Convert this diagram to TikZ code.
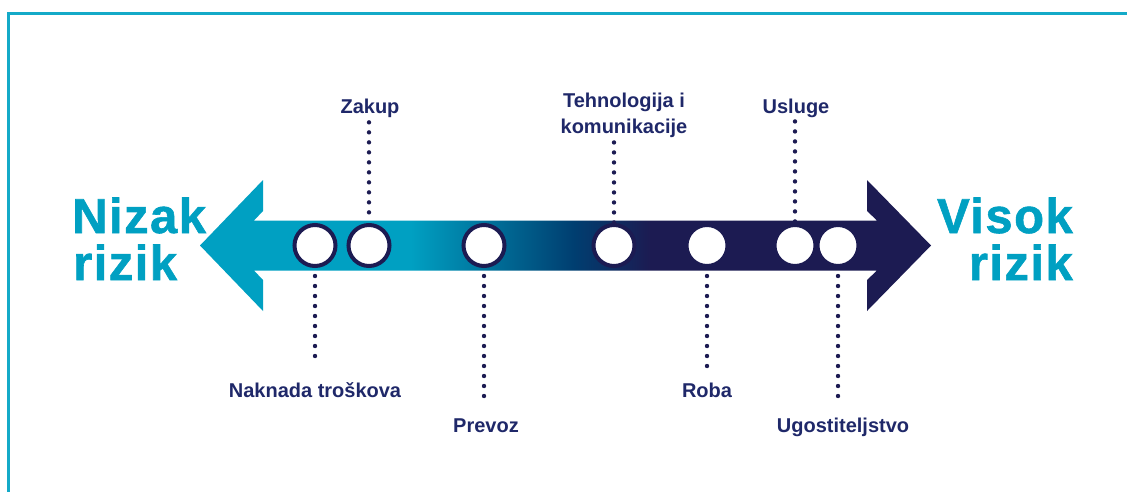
\documentclass[tikz,border=0pt]{standalone}
\usepackage{fontspec}
\setmainfont{Liberation Sans}
\definecolor{tealA}{RGB}{0,160,194}
\definecolor{frameC}{RGB}{20,170,200}
\definecolor{navyA}{RGB}{28,27,82}
\definecolor{midblue}{RGB}{0,62,112}
\definecolor{labelC}{RGB}{31,40,105}
\pgfdeclarehorizontalshading{arrowshade}{100bp}{color(0bp)=(tealA); color(39.4bp)=(tealA); color(50.6bp)=(midblue); color(55.8bp)=(navyA); color(100bp)=(navyA)}
\tikzset{
  circ/.style={circle, minimum size=41pt, inner sep=0pt, fill=white, draw=navyA, line width=4pt},
  dotline/.style={navyA, line width=4.4pt, line cap=round, dash pattern=on 0pt off 10pt},
  lbl/.style={inner sep=0pt, text=labelC, font=\bfseries\fontsize{20}{26}\selectfont},
  big/.style={inner sep=0pt, text=tealA, font=\bfseries\fontsize{49}{47}\selectfont\addfontfeatures{LetterSpace=3,FakeBold=1.2}}
}
\begin{document}
\begin{tikzpicture}[x=1pt,y=-1pt]
\useasboundingbox (0,0) rectangle (1127,491);
% frame
\draw[frameC, line width=2.6pt] (8.5,520) |- (1150,13.5);
% arrow
\path[shading=arrowshade] (200,245.5) -- (263,180) -- (263,211) -- (254,220.5) -- (877,220.5) -- (867,211) -- (867,180) -- (931,245.5) -- (867,311) -- (867,280) -- (877,270.5) -- (254,270.5) -- (263,280) -- (263,311) -- cycle;
% big labels
\node[big, anchor=base west] (nizak) at (72,233) {Nizak};
\node[big, anchor=base west] (nizakr) at (73,280) {rizik};
\node[big, anchor=base east] (visok) at (1073,233) {Visok};
\node[big, anchor=base east] (visokr) at (1073,280) {rizik};
% circles
\node[circ] (c1) at (315,245.5) {};
\node[circ] (c2) at (369,245.5) {};
\node[circ] (c3) at (484,245.5) {};
\node[circ] (c4) at (614,245.5) {};
\node[circ] (c5) at (707,245.5) {};
\node[circ] (c6) at (795,245.5) {};
\node[circ] (c7) at (838,245.5) {};
% labels
\node[lbl, anchor=base] (zakup) at (370,113) {Zakup};
\node[lbl, anchor=north, align=center] (tech) at (624,92.4) {Tehnologija i\\komunikacije};
\node[lbl, anchor=base] (usluge) at (796,113) {Usluge};
\node[lbl, anchor=base] (naknada) at (315,397) {Naknada troškova};
\node[lbl, anchor=base] (prevoz) at (486,432) {Prevoz};
\node[lbl, anchor=base] (roba) at (707,397) {Roba};
\node[lbl, anchor=base] (ugost) at (843,432) {Ugostiteljstvo};
% dotted connectors
\draw[dotline] ([yshift=-5pt]zakup.south -| c2.north) -- ([yshift=1pt]c2.north);
\draw[dotline] ([yshift=-5pt]tech.south -| c4.north) -- ([yshift=-3pt]c4.north);
\draw[dotline] ([yshift=-4pt]usluge.south -| c6.north) -- ([yshift=-3pt]c6.north);
\draw[dotline] ([yshift=-8pt]c1.south) -- ([yshift=17pt]naknada.north -| c1.south);
\draw[dotline] ([yshift=-8pt]c3.south) -- ([yshift=17pt]prevoz.north -| c3.south);
\draw[dotline] ([yshift=-8pt]c5.south) -- ([yshift=15pt]roba.north -| c5.south);
\draw[dotline] ([yshift=-8pt]c7.south) -- ([yshift=17pt]ugost.north -| c7.south);
\end{tikzpicture}
\end{document}
